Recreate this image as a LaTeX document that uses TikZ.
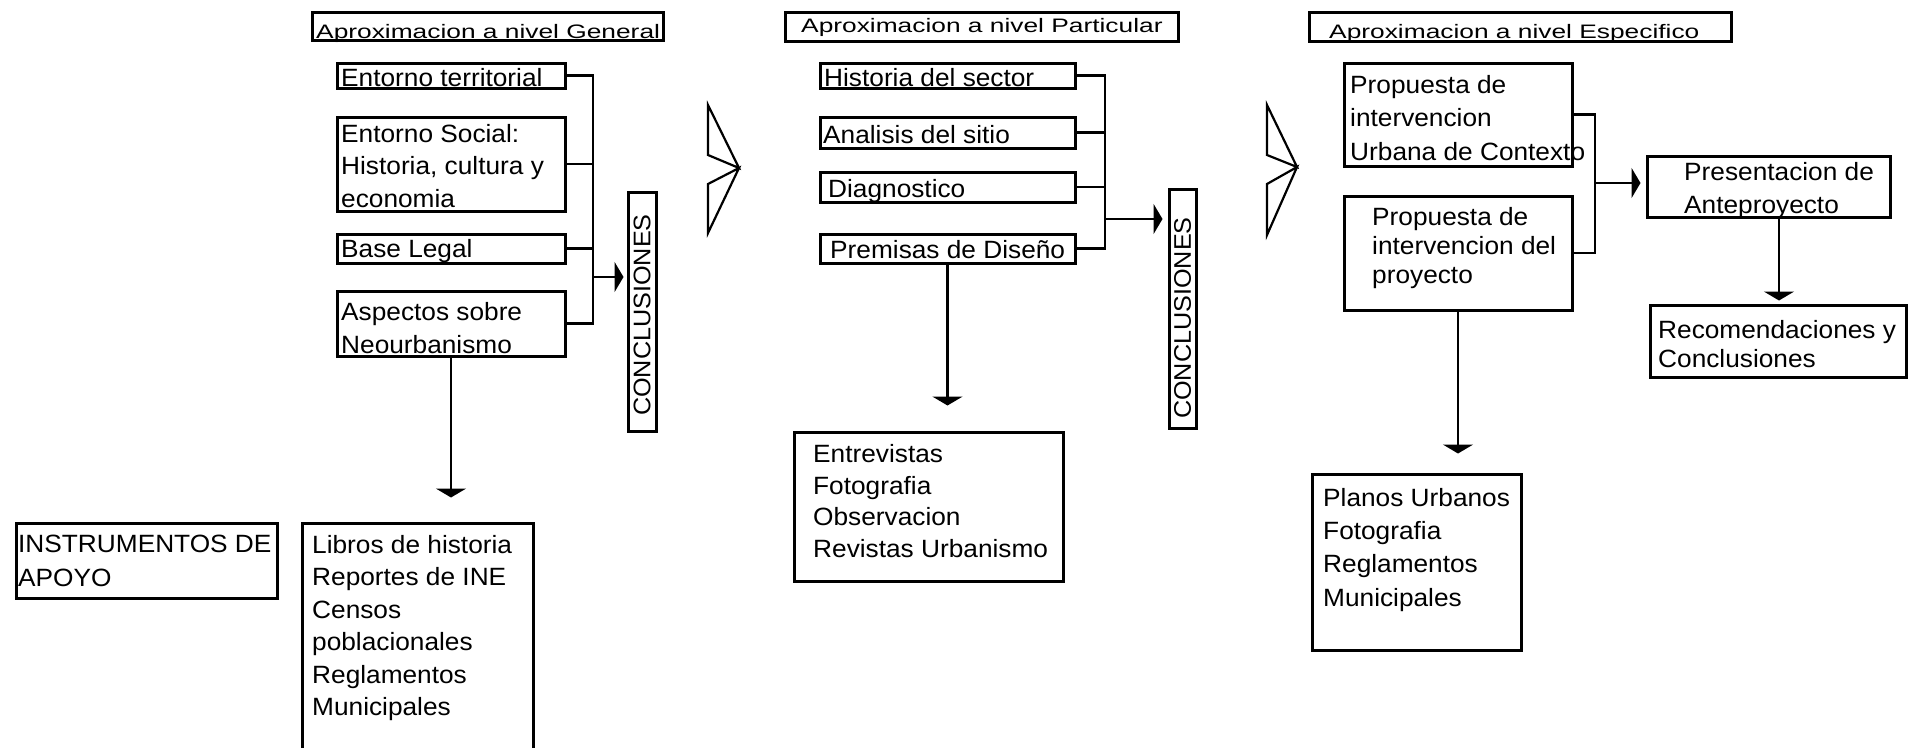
\documentclass[tikz,border=0pt]{standalone}
\usepackage{fontspec}
\setmainfont{Liberation Sans}
\newfontfamily\bodyfont[FakeStretch=1.05]{Liberation Sans}
\newfontfamily\titlefont[FakeStretch=1.35]{Liberation Sans}
\usetikzlibrary{arrows.meta,fit}
\begin{document}
\begin{tikzpicture}[x=1pt,y=-1pt,
  box/.style={draw, line width=3pt, inner sep=0pt},
  txt/.style={anchor=north west, inner sep=0pt, align=left, font=\bodyfont\fontsize{25}{32.5}\selectfont},
  ttl/.style={anchor=base west, inner sep=0pt, font=\titlefont\fontsize{19.5}{24}\selectfont},
  vtxt/.style={rotate=90, inner sep=0pt, font=\bodyfont\fontsize{24}{28}\selectfont},
  conn/.style={line width=2.8pt},
  arr/.style={line width=2.8pt, -{Triangle[width=30pt,length=9pt]}},
  chev/.style={line width=2.2pt, line join=miter}]
\fill[white] (0,0) rectangle (1908,747);
\useasboundingbox (0,0) rectangle (1908,747);

% ---------- Left column: General ----------
\node[box, fit={(312,12) (663,40)}] (tgen) {};
\node[ttl] (tgentxt) at (316,38) {Aproximacion a nivel General};
\node[box, fit={(337,63) (565,88)}] (terr) {};
\node[txt] (terrtxt) at (341,68) {Entorno territorial};
\node[box, fit={(337,117) (565,211)}] (soc) {};
\node[txt] (soctxt) at (341,124) {Entorno Social:\\Historia, cultura y\\economia};
\node[box, fit={(337,234) (565,263)}] (legal) {};
\node[txt] (legaltxt) at (341,239) {Base Legal};
\node[box, fit={(337,291) (565,356)}] (asp) {};
\node[txt] (asptxt) at (341,302) {Aspectos sobre\\[0.5pt]Neourbanismo};
\node[box, fit={(628,192) (656,431)}] (concla) {};
\node[vtxt] (conclatxt) at (642,315) {CONCLUSIONES};
\node[box, fit={(16,523) (277,598)}] (instr) {};
\node[txt] (instrtxt) at (18,535) {INSTRUMENTOS DE\\[1.5pt]APOYO};
\node[box, fit={(302,523) (533,770)}] (libros) {};
\node[txt] (librostxt) at (312,535) {Libros de historia\\Reportes de INE\\Censos\\poblacionales\\Reglamentos\\Municipales};

\coordinate (busL) at (593,277);
\draw[conn] (terr.east) -| (busL);
\draw[conn] (asp.east) -| (busL);
\draw[conn] (soc.east) -- (soc.east -| busL);
\draw[conn] (legal.east) -- (legal.east -| busL);
\draw[arr, shorten >=3pt] (busL) -- (busL -| concla.west);
\draw[arr, shorten >=24pt] (asp.south) -- (asp.south |- libros.north);

% chevron 1
\draw[chev] (708,105) -- (739,168) -- (708,155) -- cycle;
\draw[chev] (708,184) -- (739,168) -- (708,233) -- cycle;

% ---------- Middle column: Particular ----------
\node[box, fit={(785,12) (1178,41)}] (tpar) {};
\node[ttl] (tpartxt) at (801,32) {Aproximacion a nivel Particular};
\node[box, fit={(820,63) (1075,88)}] (hist) {};
\node[txt] (histtxt) at (824,68) {Historia del sector};
\node[box, fit={(820,117) (1075,148)}] (anal) {};
\node[txt] (analtxt) at (823,125) {Analisis del sitio};
\node[box, fit={(820,172) (1075,202)}] (diag) {};
\node[txt] (diagtxt) at (828,179) {Diagnostico};
\node[box, fit={(820,234) (1075,263)}] (prem) {};
\node[txt] (premtxt) at (830,240) {Premisas de Diseño};
\node[box, fit={(1169,189) (1196,428)}] (conclb) {};
\node[vtxt] (conclbtxt) at (1182.5,318) {CONCLUSIONES};
\node[box, fit={(794,432) (1063,581)}] (entrev) {};
\node[txt] (entrevtxt) at (813,444) {Entrevistas\\[-0.8pt]Fotografia\\[-0.8pt]Observacion\\[-0.8pt]Revistas Urbanismo};

\coordinate (busM) at (1105,219);
\draw[conn] (hist.east) -| (busM);
\draw[conn] (prem.east) -| (busM);
\draw[conn] (anal.east) -- (anal.east -| busM);
\draw[conn] (diag.east) -- (diag.east -| busM);
\draw[arr, shorten >=5pt] (busM) -- (busM -| conclb.west);
\draw[arr, shorten >=25pt] (prem.south) -- (prem.south |- entrev.north);

% chevron 2
\draw[chev] (1267,105) -- (1297,167) -- (1267,155) -- cycle;
\draw[chev] (1267,184) -- (1297,167) -- (1267,235) -- cycle;

% ---------- Right column: Especifico ----------
\node[box, fit={(1309,12) (1731,41)}] (tesp) {};
\node[ttl] (tesptxt) at (1329,38) {Aproximacion a nivel Especifico};
\node[box, fit={(1344,63) (1572,166)}] (pu) {};
\node[txt] (putxt) at (1350,75) {Propuesta de\\[1pt]intervencion\\[1pt]Urbana de Contexto};
\node[box, fit={(1344,196) (1572,310)}] (pp) {};
\node[txt] (pptxt) at (1372,207) {Propuesta de\\[-3.5pt]intervencion del\\[-3.5pt]proyecto};
\node[box, fit={(1647,156) (1890,217)}] (pres) {};
\node[txt] (prestxt) at (1684,162) {Presentacion de\\[0.5pt]Anteproyecto};
\node[box, fit={(1650,305) (1906,377)}] (recom) {};
\node[txt] (recomtxt) at (1658,320) {Recomendaciones y\\[-3.5pt]Conclusiones};
\node[box, fit={(1312,474) (1521,650)}] (planos) {};
\node[txt] (planostxt) at (1323,488) {Planos Urbanos\\[0.8pt]Fotografia\\[0.8pt]Reglamentos\\[0.8pt]Municipales};

\coordinate (busR) at (1595,183);
\draw[conn] (pu.east) -| (busR);
\draw[conn] (pp.east) -| (busR);
\draw[arr, shorten >=5pt] (busR) -- (busR -| pres.west);
\draw[arr, shorten >=19pt] (pp.south) -- (pp.south |- planos.north);
\coordinate (presdrop) at ([xshift=10.5pt]pres.south);
\draw[arr, shorten >=3pt] (presdrop) -- (presdrop |- recom.north);
\end{tikzpicture}
\end{document}
